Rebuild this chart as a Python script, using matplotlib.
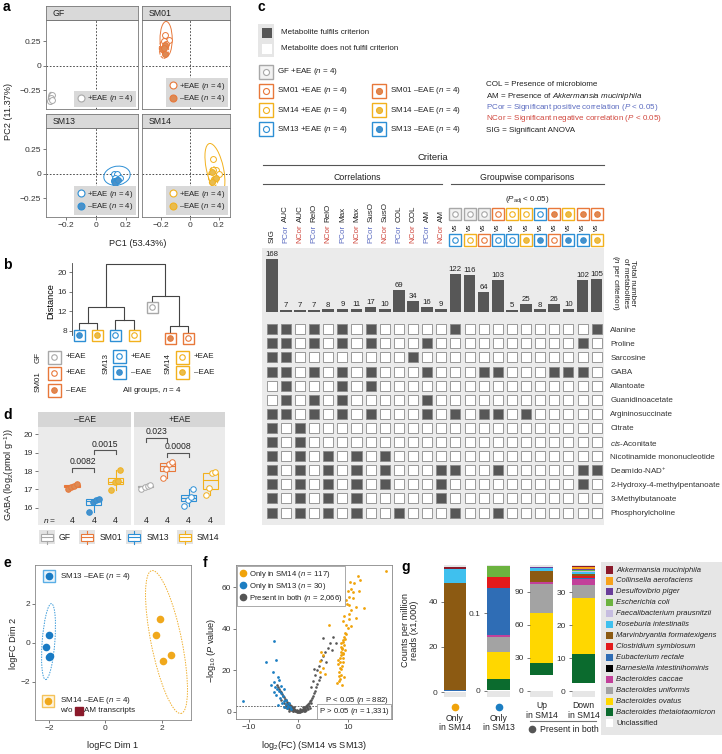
import matplotlib
matplotlib.use('Agg')
import matplotlib.pyplot as plt
from matplotlib.patches import Rectangle, Ellipse
from matplotlib.lines import Line2D
import matplotlib.transforms as mtransforms

plt.rcParams['font.family'] = ['Liberation Sans', 'DejaVu Sans']
plt.rcParams['mathtext.fontset'] = 'custom'
plt.rcParams['mathtext.rm'] = 'Liberation Sans'
plt.rcParams['mathtext.it'] = 'Liberation Sans:italic'
plt.rcParams['mathtext.bf'] = 'Liberation Sans:bold'
plt.rcParams['font.size'] = 6
plt.rcParams['axes.linewidth'] = 0.6
for a in ('xtick', 'ytick'):
    plt.rcParams[a + '.major.width'] = 0.5
    plt.rcParams[a + '.major.size'] = 2
    plt.rcParams[a + '.major.pad'] = 1.5
    plt.rcParams[a + '.labelsize'] = 6
    plt.rcParams[a + '.color'] = '#444444'
    plt.rcParams[a + '.labelcolor'] = '#333333'
plt.rcParams['text.color'] = '#222222'

# ---------------- DATA ----------------
# a: PCA scores
gf_pos_x = [-0.29, -0.30, -0.305, -0.295]
gf_pos_y = [-0.30, -0.33, -0.36, -0.345]
sm01_pos_x = [-0.175, -0.147, -0.18, -0.165]
sm01_pos_y = [0.31, 0.26, 0.25, 0.22]
sm01_neg_x = [-0.192, -0.17, -0.18, -0.175]
sm01_neg_y = [0.17, 0.21, 0.18, 0.12]
sm13_pos_x = [0.12, 0.14, 0.157, 0.13]
sm13_pos_y = [0.0, 0.0, -0.04, -0.04]
sm13_neg_x = [0.12, 0.14, 0.13, 0.15]
sm13_neg_y = [-0.07, -0.06, -0.09, -0.06]
sm14_pos_x = [0.16, 0.18, 0.20, 0.16]
sm14_pos_y = [0.15, 0.035, 0.0, 0.04]
sm14_neg_x = [0.157, 0.17, 0.18, 0.155]
sm14_neg_y = [0.02, -0.05, -0.04, -0.08]

# b: dendrogram
leaf_codes = ['SM13-', 'SM14-', 'SM13+', 'SM14+', 'GF+', 'SM01-', 'SM01+']
leaf_top = [8.4, 8.4, 8.4, 8.4, 13.9, 7.6, 7.6]
merge_a = [0, 2, 7, 5, 4, 9]
merge_b = [1, 3, 8, 6, 10, 11]
merge_h = [9.55, 10.2, 12.95, 9.1, 15.1, 21.6]

# c: criteria
crit_labels = ['SIG', 'PCor AUC', 'NCor AUC', 'PCor RelO', 'NCor RelO', 'PCor Max', 'NCor Max',
               'PCor SusO', 'NCor SusO', 'PCor COL', 'NCor COL', 'PCor AM', 'NCor AM']
gw_top = ['GF+', 'GF+', 'GF+', 'SM01+', 'SM14+', 'SM14+', 'SM13+', 'SM01-', 'SM14-', 'SM01-', 'SM01-']
gw_bottom = ['SM13+', 'SM14+', 'SM01+', 'SM13+', 'SM13+', 'SM14-', 'SM13-', 'SM01+', 'SM13-', 'SM13-', 'SM14-']
bar_counts = [168, 7, 7, 7, 8, 9, 11, 17, 10, 69, 34, 16, 9,
              122, 116, 64, 103, 5, 25, 8, 26, 10, 102, 105]
metabolites = ['Alanine', 'Proline', 'Sarcosine', 'GABA', 'Allantoate', 'Guanidinoacetate',
               'Argininosuccinate', 'Citrate', r'$\mathit{cis}$-Aconitate', 'Nicotinamide mononucleotide',
               r'Deamido-NAD$^{+}$', '2-Hydroxy-4-methylpentanoate', '3-Methylbutanoate', 'Phosphorylcholine']
fulfil_cols = [
    [0, 1, 3, 5, 7, 13, 23],
    [0, 1, 3, 5, 7, 11, 22],
    [0, 1, 10],
    [0, 1, 3, 5, 7, 11, 15, 16, 20, 21, 22],
    [1, 5, 7],
    [1, 3, 5, 11],
    [0, 1, 3, 5, 7, 11, 13, 15, 16, 18],
    [0, 2],
    [0, 2],
    [0, 2, 4, 6, 8],
    [0, 2, 4, 6, 8, 12, 13, 16, 22, 23],
    [0, 2, 4, 6, 8, 12, 22],
    [0, 2, 4, 6, 12],
    [0, 2, 4, 6, 9, 13, 16],
]

# d: GABA
d_neg_groups = ['SM01', 'SM13', 'SM14']
d_neg_pos = [2, 3, 4]
d_neg_vals = [[17.05, 17.15, 17.2, 17.3], [15.8, 16.3, 16.45, 16.5], [16.95, 17.4, 17.45, 18.05]]
d_pos_groups = ['GF', 'SM01', 'SM13', 'SM14']
d_pos_pos = [1, 2, 3, 4]
d_pos_vals = [[17.05, 17.15, 17.2, 17.25], [17.6, 18.1, 18.4, 18.5],
              [16.1, 16.45, 16.6, 17.0], [16.7, 17.1, 17.9, 17.95]]
d_jitter = [-0.2, -0.05, 0.1, 0.22]

# e: MDS of logFC
e_sm13_x = [-1.99, -2.12, -2.0, -1.97]
e_sm13_y = [0.41, -0.19, -0.7, -0.66]
e_sm14_x = [1.94, 1.81, 2.33, 2.06]
e_sm14_y = [1.22, 0.4, -0.62, -0.9]

# f: volcano
f_sm14_x = [17.6, 12.0, 12.4, 11.3, 10.5, 10.6, 10.0, 11.0, 10.2, 11.0, 9.6, 10.3, 11.6, 13.3, 10.6,
            9.2, 10.2, 9.0, 10.6, 10.0, 6.1, 9.6, 9.0, 8.8, 8.6, 8.6, 8.3, 8.0, 8.3, 8.2, 8.3, 9.2,
            8.0, 4.9, 4.3, 4.9, 4.3, 5.3, 4.6, 9.3, 9.0, 8.6, 8.2, 11.6, 10.3, 9.4, 9.1, 8.9, 8.7,
            9.5, 9.0, 8.5, 8.8, 9.2, 8.4, 8.7, 9.6, 9.9, 7.8, 12.2, 8.5, 8.9, 8.1, 9.0, 8.6]
f_sm14_y = [68, 65.5, 63.5, 62, 62.5, 59, 58, 57.5, 55.5, 55, 54, 51.5, 50.5, 50, 49,
            46, 44.5, 44, 41.5, 40.5, 42, 37.5, 33.7, 31, 29, 27.5, 26, 23, 21.4, 19, 16, 17,
            25.2, 27.5, 24.5, 21.4, 19, 18.5, 29, 30, 24, 20.5, 15, 45, 47, 35, 32, 28, 22,
            38, 26, 18, 13, 36, 24, 30.5, 42, 52, 14, 58, 33, 34.5, 17.5, 28.5, 31.5]
f_sm13_x = [-11.3, -6.5, -4.9, -4.6, -4.2, -4.9, -4.8, -4.4, -3.9, -3.6, -4.5, -3.2, -3.8, -2.9, -3.4,
            -2.6, -4.1, -2.2, -3.0, -1.8, -5.2, -5.5, -3.5, -4.0, -2.5, -5.0, -3.0, -1.5, -2.4, -2.0]
f_sm13_y = [5.4, 24, 34, 25, 17, 14.5, 12, 11, 10, 9, 8, 7.5, 6.5, 5.5, 4.5,
            4, 3.5, 3, 2.5, 2.2, 19, 13, 12.5, 15.5, 6, 9.5, 11, 1.2, 1.8, 4.5]
f_both_x = [-4.4, -4.1, -3.9, -3.7, -3.5, -3.3, -3.1, -2.9, -2.7, -2.5, -2.3, -2.1, -1.9, -1.7, -1.5,
            -1.3, -1.1, -0.9, -0.7, -0.5, -0.3, -0.1,
            0.1, 0.3, 0.5, 0.7, 0.9, 1.1, 1.3, 1.5, 1.7, 1.9, 2.1, 2.3, 2.5, 2.7, 2.9, 3.1, 3.3, 3.5,
            3.8, 4.1,
            -3.5, -3.0, -2.6, -2.2, -1.8, -1.4, -1.0, -0.6, -0.2, 0.2, 0.6, 1.0, 1.4, 1.8, 2.2, -2.8,
            -2.4, -2.0, -1.6, -1.2, -0.8, -0.4, 0.0, 0.4, 0.8, 1.2, 1.6, 2.0, 2.4, -1.9, -1.3, -0.7,
            0.5, 1.1, 1.7, -2.4, -1.6, -0.9, 0.9, -1.1, -0.3, 0.3, 1.3, -2.0, 2.6,
            2.5, 3.0, 3.4, 3.8, 4.2, 4.6, 5.0, 5.4, 5.9, 6.4, 7.0, 4.9, 3.2, 5.6, 6.8, 4.4, 7.6]
f_both_y = [13, 12, 11, 10.2, 9.4, 8.6, 7.8, 7.1, 6.4, 5.7, 5.0, 4.4, 3.8, 3.2, 2.7,
            2.2, 1.8, 1.4, 1.0, 0.7, 0.4, 0.2,
            0.2, 0.4, 0.7, 1.0, 1.4, 1.8, 2.2, 2.7, 3.2, 3.8, 4.4, 5.1, 5.9, 6.8, 7.8, 9.0, 10.3, 11.8,
            13.5, 15.5,
            6.0, 4.5, 3.5, 2.8, 1.8, 1.2, 0.8, 0.5, 0.3, 0.3, 0.5, 0.8, 1.2, 1.8, 2.8, 2.5,
            1.8, 1.2, 0.8, 0.5, 0.3, 0.2, 0.5, 0.2, 0.3, 0.5, 0.8, 1.2, 1.8, 2.5, 1.5, 0.9,
            0.9, 1.3, 2.2, 4.0, 3.0, 2.2, 2.6, 0.3, 1.0, 1.2, 0.4, 0.4, 4.5,
            12, 15, 18, 20, 22, 25, 27, 29, 31, 33, 36, 35.6, 20.5, 24, 30, 17, 33]

# g: taxonomic composition of transcripts
species = ['Akkermansia muciniphila', 'Collinsella aerofaciens', 'Desulfovibrio piger', 'Escherichia coli',
           'Faecalibacterium prausnitzii', 'Roseburia intestinalis', 'Marvinbryantia formatexigens',
           'Clostridium symbiosum', 'Eubacterium rectale', 'Barnesiella intestinihominis',
           'Bacteroides caccae', 'Bacteroides uniformis', 'Bacteroides ovatus',
           'Bacteroides thetaiotaomicron', 'Unclassified']
species_colors = ['#8b1a2b', '#f7a21b', '#6a3d9a', '#6cb33f', '#c6bde0', '#3fc0ee', '#8c5a12',
                  '#e31a1c', '#2f6db5', '#000000', '#c2409a', '#a3a3a3', '#ffd700', '#0b6b2e', '#ffffff']
g_only_sm14 = [0.9, 0, 0, 0, 0.3, 6.0, 47.4, 0, 0.5, 0, 0, 0.2, 0, 0, 0.3]
g_only_sm13 = [0, 0, 0, 0.013, 0, 0, 0, 0.015, 0.0606, 0, 0.0016, 0.0194, 0.035, 0.0146, 0.001]
g_up_sm14 = [0.4, 0, 0.8, 0, 0, 3.0, 9.5, 0, 0, 0, 2.3, 26.0, 45.5, 11.0, 14.5]
g_down_sm14 = [0.4, 0.4, 0.3, 0.4, 0.3, 0.6, 0.5, 0.6, 0.4, 0.1, 1.8, 3.9, 17.0, 8.8, 2.4]

# ---------------- STYLE ----------------
GF_C = '#a8a8a8'
SM01_C, SM01_F = '#e8783a', '#dc8a55'
SM13_C, SM13_F = '#2d8fd5', '#4a90c8'
SM14_C, SM14_F = '#f2b11d', '#e9bc4e'
PCOR_C, NCOR_C = '#5b6bc0', '#d0463c'
GROUP_STYLE = {
    'GF+': (GF_C, False, GF_C), 'SM01+': (SM01_C, False, SM01_F), 'SM01-': (SM01_C, True, SM01_F),
    'SM13+': (SM13_C, False, SM13_F), 'SM13-': (SM13_C, True, SM13_F),
    'SM14+': (SM14_C, False, SM14_F), 'SM14-': (SM14_C, True, SM14_F),
}

W, H = 722, 754
fig = plt.figure(figsize=(W / 100, H / 100), dpi=100)


def px_ax(x0, y0, x1, y1, **kw):
    return fig.add_axes([x0 / W, 1 - y1 / H, (x1 - x0) / W, (y1 - y0) / H], **kw)


ov = px_ax(0, 0, W, H)
ov.set_xlim(0, W); ov.set_ylim(H, 0); ov.set_autoscale_on(False)
ov.axis('off'); ov.set_zorder(50)

bgax = px_ax(0, 0, W, H)
bgax.set_xlim(0, W); bgax.set_ylim(H, 0); bgax.set_autoscale_on(False)
bgax.axis('off'); bgax.set_zorder(-5)


def glyph(ax, x, y, code, sq=12, circ=5.5, transform=None, face='white', z=30):
    edge, filled, fillc = GROUP_STYLE[code]
    kw = {} if transform is None else {'transform': transform}
    ax.plot([x], [y], marker='s', ms=sq * 0.72, mfc=face, mec=edge, mew=1.0, ls='none', zorder=z, clip_on=False, **kw)
    ax.plot([x], [y], marker='o', ms=circ * 0.72, mfc=fillc if filled else 'white', mec=edge, mew=0.8,
            ls='none', zorder=z + 1, clip_on=False, **kw)


def clean(ax):
    for s in ax.spines.values():
        s.set_visible(False)
    ax.set_xticks([]); ax.set_yticks([])


# panel letters
for lab, x, y in [('a', 3, 7), ('b', 3, 265), ('c', 258, 7), ('d', 3, 415), ('e', 3, 563),
                  ('f', 203, 563), ('g', 401, 567)]:
    ov.text(x, y, lab, fontsize=10, fontweight='bold', ha='left', va='center', color='black')

# ---------------- PANEL a ----------------
facets = [('GF', 46, 6, 138, 109), ('SM01', 142, 6, 230, 109), ('SM13', 46, 114, 138, 217), ('SM14', 142, 114, 230, 217)]
pca_sets = {
    'GF': [(gf_pos_x, gf_pos_y, GF_C, False)],
    'SM01': [(sm01_pos_x, sm01_pos_y, SM01_C, False), (sm01_neg_x, sm01_neg_y, SM01_C, True)],
    'SM13': [(sm13_pos_x, sm13_pos_y, SM13_C, False), (sm13_neg_x, sm13_neg_y, SM13_C, True)],
    'SM14': [(sm14_pos_x, sm14_pos_y, SM14_C, False), (sm14_neg_x, sm14_neg_y, SM14_C, True)],
}
fills = {'GF': GF_C, 'SM01': SM01_F, 'SM13': SM13_F, 'SM14': SM14_F}
ellipses = {
    'GF': [((-0.30, -0.33), 0.035, 0.12, 0, '-')],
    'SM01': [((-0.165, 0.27), 0.085, 0.36, 0, '-'), ((-0.18, 0.17), 0.065, 0.19, 0, '--')],
    'SM13': [((0.14, -0.02), 0.17, 0.2, -25, '-'), ((0.135, -0.07), 0.06, 0.06, 0, '--')],
    'SM14': [((0.175, 0.05), 0.12, 0.52, 8, '-'), ((0.165, -0.03), 0.07, 0.2, 0, '--')],
}
for name, x0, y0, x1, y1 in facets:
    ax = px_ax(x0, y0 + 14, x1, y1)
    ax.axhline(0, ls=(0, (2, 2)), color='#333', lw=0.6, zorder=1)
    ax.axvline(0, ls=(0, (2, 2)), color='#333', lw=0.6, zorder=1)
    handles = []
    for (xs, ys, col, filled) in pca_sets[name]:
        ax.scatter(xs, ys, s=18, facecolor=fills[name] if filled else 'white', edgecolor=col,
                   lw=0.7, zorder=3)
        lab = ('–EAE' if filled else '+EAE') + ' ($n$ = 4)'
        handles.append(Line2D([], [], marker='o', ls='none', ms=5, mfc=fills[name] if filled else 'white',
                              mec=col, mew=0.8, label=lab))
    for (c, w, h, ang, ls) in ellipses[name]:
        ax.add_patch(Ellipse(c, w, h, angle=ang, fill=False, ec=pca_sets[name][0][2], lw=0.7, ls=ls, zorder=2))
    ax.set_xlim(-0.333, 0.28); ax.set_ylim(-0.44, 0.465)
    ax.set_xticks([-0.2, 0, 0.2]); ax.set_yticks([-0.25, 0, 0.25])
    ax.set_xticklabels(['−0.2', '0', '0.2'] if y0 > 100 else [])
    ax.set_yticklabels(['−0.25', '0', '0.25'] if x0 < 100 else [])
    if y0 < 100:
        ax.tick_params(axis='x', length=0)
    if x0 > 100:
        ax.tick_params(axis='y', length=0)
    for s in ax.spines.values():
        s.set_color('#777')
    leg = ax.legend(handles=handles, loc='lower right', fontsize=5.6, frameon=True, fancybox=False,
                    facecolor='#d9d9d9', edgecolor='none', framealpha=1, borderpad=0.35,
                    handletextpad=0.3, labelspacing=0.15, handlelength=1.0, borderaxespad=0.25)
    st = px_ax(x0, y0, x1, y0 + 14)
    st.set_facecolor('#d9d9d9'); st.set_xticks([]); st.set_yticks([])
    for s in st.spines.values():
        s.set_color('#777')
    st.text(0.07, 0.5, name, transform=st.transAxes, va='center', ha='left', fontsize=6.3)

ov.text(9, 111, 'PC2 (11.37%)', rotation=90, ha='center', va='center', fontsize=6.6)
ov.text(138, 243, 'PC1 (53.43%)', ha='center', va='center', fontsize=6.6)

# ---------------- PANEL b ----------------
axb = px_ax(72, 258, 200, 345)
axb.patch.set_visible(False)
nx = [float(i) for i in range(len(leaf_codes))]
ny = list(leaf_top)
for a_, b_, h in zip(merge_a, merge_b, merge_h):
    axb.plot([nx[a_], nx[a_], nx[b_], nx[b_]], [ny[a_], h, h, ny[b_]], color='#444', lw=0.8)
    nx.append((nx[a_] + nx[b_]) / 2); ny.append(h)
for i, code in enumerate(leaf_codes):
    glyph(axb, i, leaf_top[i] - 1.12, code, sq=11, circ=5.5)
axb.set_xlim(-0.385, 6.66); axb.set_ylim(5.15, 22.85)
for s in ['top', 'right', 'bottom']:
    axb.spines[s].set_visible(False)
axb.spines['left'].set_bounds(7.2, 21.9)
axb.spines['left'].set_color('#444')
axb.set_xticks([]); axb.set_yticks([8, 12, 16, 20])
axb.set_ylabel('Distance', fontsize=6.6, labelpad=2)

# b legend
ov.text(38, 357, 'GF', rotation=90, ha='center', va='center', fontsize=5.8)
ov.text(38, 382, 'SM01', rotation=90, ha='center', va='center', fontsize=5.8)
ov.text(106, 364, 'SM13', rotation=90, ha='center', va='center', fontsize=5.8)
ov.text(168, 364, 'SM14', rotation=90, ha='center', va='center', fontsize=5.8)
for code, x, y in [('GF+', 54, 357), ('SM01+', 54, 373), ('SM01-', 54, 390), ('SM13+', 119, 356),
                   ('SM13-', 119, 372), ('SM14+', 182, 357), ('SM14-', 182, 372)]:
    glyph(ov, x, y, code, sq=13, circ=5.5)
    ov.text(x + 12, y, '+EAE' if code.endswith('+') else '–EAE', ha='left', va='center', fontsize=5.8)
ov.text(152, 391, 'All groups, $n$ = 4', ha='center', va='center', fontsize=5.8)

# ---------------- PANEL c ----------------
bgax.add_patch(Rectangle((258, 24), 16, 33, fc='#e6e6e6', ec='none'))
bgax.add_patch(Rectangle((261.5, 28), 10, 10, fc='#575757', ec='none'))
bgax.add_patch(Rectangle((261.5, 44), 10, 10, fc='white', ec='none'))
ov.text(281, 33, 'Metabolite fulfils criterion', ha='left', va='center', fontsize=5.8)
ov.text(281, 49, 'Metabolite does not fulfil criterion', ha='left', va='center', fontsize=5.8)
for code, x, y, txt in [('GF+', 265.7, 71.7, 'GF +EAE ($n$ = 4)'), ('SM01+', 265.7, 91, 'SM01 +EAE ($n$ = 4)'),
                        ('SM14+', 265.7, 110.3, 'SM14 +EAE ($n$ = 4)'), ('SM13+', 265.7, 129.3, 'SM13 +EAE ($n$ = 4)'),
                        ('SM01-', 379.3, 91, 'SM01 –EAE ($n$ = 4)'), ('SM14-', 379.3, 110.3, 'SM14 –EAE ($n$ = 4)'),
                        ('SM13-', 379.3, 129.3, 'SM13 –EAE ($n$ = 4)')]:
    glyph(ov, x, y, code, sq=14, circ=6, face='#f2f2f2' if code == 'GF+' else 'white')
    ov.text(x + 11, y, txt, ha='left', va='center', fontsize=5.8)
ov.text(486, 85, 'COL = Presence of microbiome', ha='left', va='center', fontsize=5.8)
ov.text(486, 96.3, r'AM = Presence of $\mathit{Akkermansia\ muciniphila}$', ha='left', va='center', fontsize=5.8)
ov.text(486, 107.5, r'PCor = Significant positive correlation ($P$ < 0.05)', ha='left', va='center',
        fontsize=5.8, color=PCOR_C)
ov.text(486, 119, r'NCor = Significant negative correlation ($P$ < 0.05)', ha='left', va='center',
        fontsize=5.8, color=NCOR_C)
ov.text(486, 131, 'SIG = Significant ANOVA', ha='left', va='center', fontsize=5.8)

ov.text(433, 158, 'Criteria', ha='center', va='center', fontsize=6.8)
ov.plot([263.3, 604], [164.7, 164.7], color='#555', lw=0.8)
ov.text(357, 177.3, 'Correlations', ha='center', va='center', fontsize=6.3)
ov.plot([263.3, 442.3], [184.3, 184.3], color='#555', lw=0.8)
ov.text(527.3, 177.3, 'Groupwise comparisons', ha='center', va='center', fontsize=6.3)
ov.plot([451.3, 604], [184.3, 184.3], color='#555', lw=0.8)
ov.text(527.3, 200, r'($P_{\mathrm{adj}}$ < 0.05)', ha='center', va='center', fontsize=5.8)

axbar = px_ax(262, 248, 604, 315)
axbar.set_facecolor('#ebebeb')
ncol = len(bar_counts)
axbar.bar(range(ncol), bar_counts, width=0.82, color='#575757')
for i, v in enumerate(bar_counts):
    axbar.text(i, v + 3, str(v), ha='center', va='bottom', fontsize=5.6)
axbar.set_xlim(-0.69, 23.52); axbar.set_ylim(-9.5, 203)
clean(axbar)

axg = px_ax(262, 315, 604, 525)
axg.set_facecolor('#ebebeb')
for r, cols in enumerate(fulfil_cols):
    for c in range(ncol):
        axg.add_patch(Rectangle((c - 0.355, r - 0.355), 0.71, 0.71,
                                fc='#575757' if c in cols else 'white', ec='#8a8a8a', lw=0.6))
axg.set_xlim(-0.69, 23.52); axg.set_ylim(13.88, -1.01)
for s in axg.spines.values():
    s.set_visible(False)
axg.set_xticks([])
axg.yaxis.tick_right()
axg.set_yticks(range(len(metabolites)))
axg.set_yticklabels(metabolites, fontsize=5.8)
axg.tick_params(axis='y', length=0, pad=4.5)

trans_c = mtransforms.blended_transform_factory(axbar.transData, ov.transData)
for i, lab in enumerate(crit_labels):
    if ' ' not in lab:
        ov.text(i, 243, lab, rotation=90, ha='center', va='bottom', fontsize=5.8, transform=trans_c)
    else:
        first, second = lab.split(' ')
        t1 = ov.text(i, 243, first, rotation=90, ha='center', va='bottom', fontsize=5.8, transform=trans_c,
                     color=PCOR_C if first == 'PCor' else NCOR_C)
        ov.annotate(second, xy=(0.5, 1), xycoords=t1, xytext=(0, 1.8), textcoords='offset points',
                    rotation=90, ha='center', va='bottom', fontsize=5.8)
for j, (tc, bc) in enumerate(zip(gw_top, gw_bottom)):
    col = 13 + j
    glyph(ov, col, 214, tc, sq=12.5, circ=5.5, transform=trans_c, face='#f2f2f2' if tc == 'GF+' else 'white')
    ov.text(col, 227, 'vs', rotation=90, ha='center', va='center', fontsize=5.3, transform=trans_c)
    glyph(ov, col, 240, bc, sq=12.5, circ=5.5, transform=trans_c)
ov.text(623, 283, 'Total number\nof metabolites\n($n$ per criterion)', rotation=-90, ha='center', va='center',
        fontsize=5.8, linespacing=1.1)

# ---------------- PANEL d ----------------
d_colors = {'GF': (GF_C, GF_C), 'SM01': (SM01_C, SM01_F), 'SM13': (SM13_C, SM13_F), 'SM14': (SM14_C, SM14_F)}
for k, (x0, x1, title, groups, poss, vals, filled) in enumerate([
        (38, 131, '–EAE', d_neg_groups, d_neg_pos, d_neg_vals, True),
        (134, 225, '+EAE', d_pos_groups, d_pos_pos, d_pos_vals, False)]):
    ax = px_ax(x0, 427, x1, 525)
    ax.set_facecolor('#ebebeb')
    bp = ax.boxplot(vals, positions=poss, widths=0.7, patch_artist=True, showfliers=False, whis=1.5,
                    manage_ticks=False)
    for gi, g in enumerate(groups):
        ec, fc = d_colors[g]
        bp['boxes'][gi].set(facecolor='none', edgecolor=ec, lw=0.8)
        bp['medians'][gi].set(color=ec, lw=0.8)
        for w in bp['whiskers'][2 * gi:2 * gi + 2]:
            w.set(color=ec, lw=0.8)
        for cp in bp['caps'][2 * gi:2 * gi + 2]:
            cp.set(visible=False)
        xs = [poss[gi] + dj for dj in d_jitter]
        ax.scatter(xs, vals[gi], s=16, facecolor=fc if filled else 'white', edgecolor=ec, lw=0.7, zorder=4)
        ax.text(poss[gi], 15.3, '4', ha='center', va='center', fontsize=6.2)
    if k == 0:
        ax.text(1, 15.3, '$n$ =', ha='center', va='center', fontsize=6)
        ax.plot([2, 2, 3, 3], [17.95, 18.18, 18.18, 17.95], color='#555', lw=0.8)
        ax.text(2.5, 18.5, '0.0082', ha='center', va='center', fontsize=6.2)
        ax.plot([3, 3, 4, 4], [18.9, 19.13, 19.13, 18.9], color='#555', lw=0.8)
        ax.text(3.5, 19.45, '0.0015', ha='center', va='center', fontsize=6.2)
        ax.set_yticks([16, 17, 18, 19, 20])
    else:
        ax.plot([1, 1, 2, 2], [19.57, 19.8, 19.8, 19.57], color='#555', lw=0.8)
        ax.text(1.5, 20.12, '0.023', ha='center', va='center', fontsize=6.2)
        ax.plot([2, 2, 3, 3], [18.77, 19.0, 19.0, 18.77], color='#555', lw=0.8)
        ax.text(2.5, 19.35, '0.0008', ha='center', va='center', fontsize=6.2)
        ax.set_yticks([])
    ax.set_xlim(0.45, 4.7); ax.set_ylim(15.08, 20.38)
    ax.set_xticks([])
    for s in ax.spines.values():
        s.set_visible(False)
    st = px_ax(x0, 412, x1, 427)
    st.set_facecolor('#d6d6d6'); clean(st)
    st.text(0.5, 0.5, title, transform=st.transAxes, ha='center', va='center', fontsize=6.2)
ov.text(9, 475, r'GABA (log$_2$(pmol g$^{-1}$))', rotation=90, ha='center', va='center', fontsize=6.6)


def box_icon(x, y, color):
    ov.add_patch(Rectangle((x - 8, y - 7), 16, 14, fc='#e3e3e3', ec='none', zorder=29))
    ov.add_patch(Rectangle((x - 6, y - 3.5), 12, 7, fc='white', ec=color, lw=0.8, zorder=30))
    ov.plot([x - 6, x + 6], [y, y], color=color, lw=0.8, zorder=31)
    ov.plot([x, x], [y - 6.5, y - 3.5], color=color, lw=0.8, zorder=31)
    ov.plot([x, x], [y + 3.5, y + 6.5], color=color, lw=0.8, zorder=31)


for g, x, tx in [('GF', 47, 59), ('SM01', 87, 100), ('SM13', 134, 147), ('SM14', 185, 197)]:
    box_icon(x, 537, d_colors[g][0])
    ov.text(tx, 537, g, ha='left', va='center', fontsize=6.2)

# ---------------- PANEL e ----------------
axe = px_ax(35, 565, 191, 720)
axe.scatter(e_sm13_x, e_sm13_y, s=30, color='#1a7bc4', lw=0, zorder=3)
axe.scatter(e_sm14_x, e_sm14_y, s=30, color='#f0a81c', lw=0, zorder=3)
axe.add_patch(Ellipse((-2.02, 0.07), 0.45, 3.9, angle=-3, fill=False, ec='#3a9ad9', lw=0.7, ls=(0, (1.5, 1.2))))
axe.add_patch(Ellipse((2.17, 0.05), 1.1, 7.4, angle=7.9, fill=False, ec='#f0b030', lw=0.7, ls=(0, (1.5, 1.2))))
axe.set_xlim(-2.5, 3.04); axe.set_ylim(-3.95, 4.0)
axe.set_xticks([-2, 0, 2]); axe.set_xticklabels(['−2', '0', '2'])
axe.set_yticks([-2, 0, 2]); axe.set_yticklabels(['−2', '0', '2'])
for s in axe.spines.values():
    s.set_color('#888')
ov.text(113, 746, 'logFC Dim 1', ha='center', va='center', fontsize=6.6)
ov.text(13, 643, 'logFC Dim 2', rotation=90, ha='center', va='center', fontsize=6.6)
ov.plot([49], [576], marker='s', ms=9, mfc='#eaf4fb', mec='#5aaee6', mew=1.0)
ov.plot([49], [576], marker='o', ms=4.5, mfc='#1a7bc4', mec='#1a7bc4')
ov.text(60, 576, 'SM13 –EAE ($n$ = 4)', ha='left', va='center', fontsize=5.8)
ov.plot([48], [701], marker='s', ms=9, mfc='#fdf4e0', mec='#f5c35a', mew=1.0)
ov.plot([48], [701], marker='o', ms=4.5, mfc='#f0a81c', mec='#f0a81c')
ov.text(60, 700.5, 'SM14 –EAE ($n$ = 4)', ha='left', va='center', fontsize=5.8)
ov.text(60, 710.5, 'w/o', ha='left', va='center', fontsize=5.8)
ov.plot([78.5], [710.5], marker='s', ms=6, mfc='#8b1a2b', mec='#8b1a2b')
ov.text(84, 710.5, 'AM transcripts', ha='left', va='center', fontsize=5.8)

# ---------------- PANEL f ----------------
axf = px_ax(236, 565, 392, 719)
axf.scatter(f_both_x, f_both_y, s=3.5, color='#555555', lw=0, zorder=2)
axf.scatter(f_sm13_x, f_sm13_y, s=4, color='#1c7ec2', lw=0, zorder=3)
axf.scatter(f_sm14_x, f_sm14_y, s=4, color='#f0a30a', lw=0, zorder=3)
axf.axhline(3.0, ls=(0, (2, 1.5)), color='#555', lw=0.6)
axf.set_xlim(-12.63, 18.9); axf.set_ylim(-3.37, 70.7)
axf.set_xticks([-10, 0, 10]); axf.set_xticklabels(['−10', '0', '10'])
axf.set_yticks([0, 20, 40, 60])
for s in axf.spines.values():
    s.set_color('#888')
fh = [Line2D([], [], marker='o', ls='none', ms=4.5, color='#f0a30a', label='Only in SM14 ($n$ = 117)'),
      Line2D([], [], marker='o', ls='none', ms=4.5, color='#1c7ec2', label='Only in SM13 ($n$ = 30)'),
      Line2D([], [], marker='o', ls='none', ms=4.5, color='#555555', label='Present in both ($n$ = 2,066)')]
axf.legend(handles=fh, loc='upper left', fontsize=5.6, frameon=True, fancybox=False, edgecolor='#888',
           framealpha=1, borderpad=0.3, handletextpad=0.2, labelspacing=0.15, handlelength=1.0,
           borderaxespad=0.15).get_frame().set_linewidth(0.5)
axf.text(18.3, 5.5, 'P < 0.05 ($n$ = 882)', ha='right', va='center', fontsize=5.6)
axf.text(18.3, 0.2, 'P > 0.05 ($n$ = 1,331)', ha='right', va='center', fontsize=5.6,
         bbox=dict(fc='white', ec='#888', lw=0.5, pad=1.2))
ov.text(314, 746, r'log$_2$(FC) (SM14 vs SM13)', ha='center', va='center', fontsize=6.6)
ov.text(211, 650, r'−log$_{10}$ ($P$ value)', rotation=90, ha='center', va='center', fontsize=6.6)

# ---------------- PANEL g ----------------
g_bars = [(444, 466, g_only_sm14, (-2.2, 56.3), [0, 20, 40], ['0', '20', '40']),
          (487, 510, g_only_sm13, (-0.0078, 0.162), [0, 0.1], ['0', '0.1']),
          (530, 553, g_up_sm14, (-5.5, 114.5), [0, 30, 60, 90], ['0', '30', '60', '90']),
          (572, 595, g_down_sm14, (-1.8, 38.2), [0, 10, 20, 30], ['0', '10', '20', '30'])]
for x0, x1, vals, ylim, ticks, tlabs in g_bars:
    ax = px_ax(x0, 565, x1, 697)
    ax.set_facecolor('#e6e6e6')
    bottom = 0.0
    for si in range(len(species) - 1, -1, -1):
        v = vals[si]
        if v > 0:
            ax.bar([0], [v], bottom=bottom, width=1.0, color=species_colors[si], lw=0)
            bottom += v
    ax.set_xlim(-0.5, 0.5); ax.set_ylim(*ylim)
    for s in ax.spines.values():
        s.set_visible(False)
    ax.set_xticks([]); ax.set_yticks(ticks); ax.set_yticklabels(tlabs)
    ax.tick_params(axis='y', length=2.5, pad=2)
ov.text(410, 630, 'Counts per million\nreads (x1,000)', rotation=90, ha='center', va='center', fontsize=6.6,
        linespacing=1.1)
ov.plot([455], [707], marker='o', ms=4.5, color='#f0a30a')
ov.text(455, 723, 'Only\nin SM14', ha='center', va='center', fontsize=6.2, linespacing=1.1)
ov.plot([498.5], [707], marker='o', ms=4.5, color='#1c7ec2')
ov.text(498.5, 723, 'Only\nin SM13', ha='center', va='center', fontsize=6.2, linespacing=1.1)
ov.text(541.5, 710.5, 'Up\nin SM14', ha='center', va='center', fontsize=6.2, linespacing=1.1)
ov.text(583.5, 710.5, 'Down\nin SM14', ha='center', va='center', fontsize=6.2, linespacing=1.1)
ov.plot([530, 596], [721, 721], color='#777', lw=0.8)
ov.plot([532], [729], marker='o', ms=4.5, color='#555555')
ov.text(540, 729, 'Present in both', ha='left', va='center', fontsize=6.2)

bgax.add_patch(Rectangle((601, 562), 121, 173, fc='#e6e6e6', ec='none'))
for i, (sp, col) in enumerate(zip(species, species_colors)):
    y = 570 + i * 10.93
    ov.add_patch(Rectangle((606, y - 3.6), 7.2, 7.2, fc=col, ec='none'))
    if sp == 'Unclassified':
        ov.text(616, y, sp, ha='left', va='center', fontsize=5.5)
    else:
        ov.text(616, y, sp, ha='left', va='center', fontsize=5.5, style='italic')

fig.savefig('out.png', dpi=100)
